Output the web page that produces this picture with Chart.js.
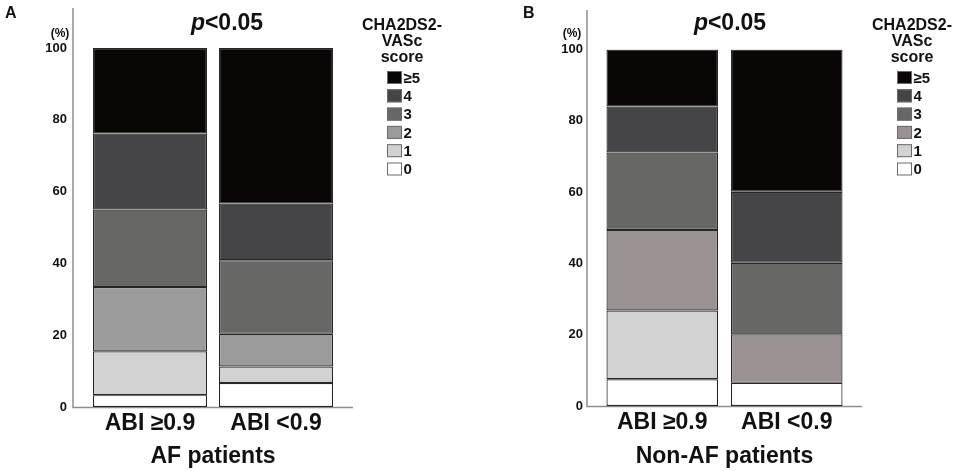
<!DOCTYPE html>
<html>
<head>
<meta charset="utf-8">
<script src="https://cdn.jsdelivr.net/npm/chart.js@4.4.1/dist/chart.umd.min.js"></script>
<style>
  html, body { margin: 0; padding: 0; background: #fff; }
  #wrap { position: relative; width: 957px; height: 471px; }
  canvas { position: absolute; top: 0; }
</style>
</head>
<body>
<div id="wrap">
  <canvas id="chartA" width="478" height="471" style="left:0"></canvas>
  <canvas id="chartB" width="479" height="471" style="left:478px"></canvas>
</div>
<script>
const categories = ["ABI \u22650.9", "ABI <0.9"];
const scoreLabels = ["0", "1", "2", "3", "4", "\u22655"];
const yTicks = [0, 20, 40, 60, 80, 100];

// AF patients: % of each CHA2DS2-VASc score per ABI group
const afScore0 = [3.3, 6.7];
const afScore1 = [12.2, 4.6];
const afScore2 = [17.9, 9.1];
const afScore3 = [21.6, 20.5];
const afScore4 = [21.2, 15.8];
const afScore5 = [23.8, 43.3];

// Non-AF patients
const nonAfScore0 = [7.5, 6.5];
const nonAfScore1 = [19.3, 0];
const nonAfScore2 = [22.6, 13.6];
const nonAfScore3 = [21.7, 20.1];
const nonAfScore4 = [12.9, 19.9];
const nonAfScore5 = [16.0, 39.9];

const colorsA = ["#ffffff", "#d2d2d2", "#9b9b9b", "#676766", "#454547", "#0a0606"];
const colorsB = ["#ffffff", "#d2d2d2", "#9a9292", "#676766", "#454547", "#0a0606"];

const FONT = '"Liberation Sans", Arial, sans-serif';
Chart.defaults.font.family = FONT;

const decorPlugin = {
  id: "decor",
  beforeDatasetsDraw(chart, args, o) {
    const ctx = chart.ctx, a = chart.chartArea;
    ctx.save();
    ctx.strokeStyle = "#8e8e8e";
    ctx.lineWidth = 1.5;
    ctx.beginPath();
    ctx.moveTo(a.left - o.axisGap, o.axisTop);
    ctx.lineTo(a.left - o.axisGap, a.bottom + 0.5);
    ctx.lineTo(a.right + o.axisGap, a.bottom + 0.5);
    ctx.stroke();
    ctx.restore();
  },
  afterDraw(chart, args, o) {
    const ctx = chart.ctx;
    ctx.save();
    ctx.fillStyle = "#111";
    ctx.textBaseline = "alphabetic";

    // panel letter
    ctx.font = "bold 16px " + FONT;
    ctx.textAlign = "left";
    ctx.fillText(o.letter, o.letterX, 18);

    // unit
    ctx.font = "bold 12px " + FONT;
    ctx.textAlign = "center";
    ctx.fillText("(%)", o.unitX, 37);

    // p value, italic p
    const pFont = "italic bold 23px " + FONT;
    const restFont = "bold 23px " + FONT;
    ctx.font = pFont;
    const wp = ctx.measureText("p").width;
    ctx.font = restFont;
    const wr = ctx.measureText("<0.05").width;
    let x = o.pX - (wp + wr) / 2;
    ctx.textAlign = "left";
    ctx.font = pFont;
    ctx.fillText("p", x, 30);
    ctx.font = restFont;
    ctx.fillText("<0.05", x + wp, 30);

    // legend title
    ctx.font = "bold 16px " + FONT;
    ctx.textAlign = "center";
    ["CHA2DS2-", "VASc", "score"].forEach((t, i) => ctx.fillText(t, o.legendX + 15, 29.5 + i * 16));

    // legend items, highest score on top
    const ds = chart.data.datasets;
    ctx.font = "bold 15px " + FONT;
    ctx.textAlign = "left";
    ctx.textBaseline = "middle";
    for (let k = 0; k < ds.length; k++) {
      const d = ds[ds.length - 1 - k];
      const cy = 77.5 + k * 18.3;
      ctx.fillStyle = d.backgroundColor;
      ctx.fillRect(o.legendX, cy - 6.5, 15, 13);
      ctx.strokeStyle = "#6a6a6a";
      ctx.lineWidth = 1;
      ctx.strokeRect(o.legendX + 0.5, cy - 6, 14, 12);
      ctx.fillStyle = "#111";
      ctx.fillText(d.label, o.legendX + 16.5, cy + 1);
    }
    ctx.restore();
  }
};

function makeChart(id, scoreData, colors, deco) {
  const datasets = scoreLabels.map((s, i) => ({
    label: s,
    data: scoreData[i],
    backgroundColor: colors[i],
    borderColor: "#262626",
    borderWidth: 1.2,
    borderSkipped: false,
    barPercentage: deco.barPct,
    categoryPercentage: 1
  }));

  return new Chart(document.getElementById(id), {
    type: "bar",
    data: { labels: categories, datasets: datasets },
    options: {
      responsive: false,
      animation: false,
      events: [],
      layout: { padding: { top: deco.areaTop, right: deco.padRight, bottom: 0, left: 0 } },
      plugins: {
        legend: { display: false },
        tooltip: { enabled: false },
        decor: deco
      },
      scales: {
        x: {
          stacked: true,
          grid: { display: false, drawTicks: false },
          border: { display: false },
          ticks: { color: "#111", font: { size: 23, weight: "bold" }, padding: 3 },
          title: {
            display: true,
            text: deco.groupTitle,
            color: "#111",
            font: { size: 23, weight: "bold" },
            padding: { top: 0, bottom: 1 }
          },
          afterFit: s => { s.height = deco.xHeight; }
        },
        y: {
          stacked: true,
          min: 0,
          max: 100,
          grid: { display: false, drawTicks: false },
          border: { display: false },
          afterBuildTicks: s => { s.ticks = yTicks.map(v => ({ value: v })); },
          ticks: { color: "#111", font: { size: 13, weight: "bold" }, padding: deco.tickPad },
          afterFit: s => { s.width = deco.areaLeft; }
        }
      }
    },
    plugins: [decorPlugin]
  });
}

makeChart("chartA",
  [afScore0, afScore1, afScore2, afScore3, afScore4, afScore5],
  colorsA,
  {
    letter: "A", letterX: 5, unitX: 60, pX: 227, legendX: 387,
    groupTitle: "AF patients",
    areaLeft: 87, padRight: 139, areaTop: 48, xHeight: 64,
    barPct: 0.905, tickPad: 20, axisGap: 14, axisTop: 8
  });

makeChart("chartB",
  [nonAfScore0, nonAfScore1, nonAfScore2, nonAfScore3, nonAfScore4, nonAfScore5],
  colorsB,
  {
    letter: "B", letterX: 45, unitX: 94, pX: 252, legendX: 419,
    groupTitle: "Non-AF patients",
    areaLeft: 122, padRight: 108, areaTop: 49.5, xHeight: 65,
    barPct: 0.896, tickPad: 17, axisGap: 13, axisTop: 10
  });
</script>
</body>
</html>
